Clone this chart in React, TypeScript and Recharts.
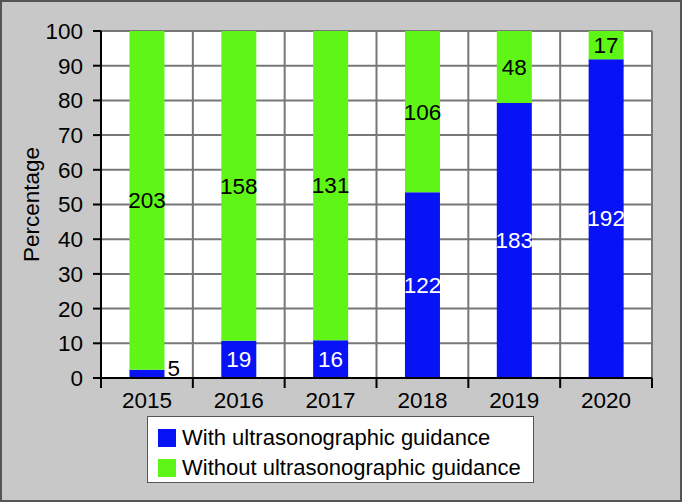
import React from 'react'
import { BarChart, Bar, XAxis, YAxis, CartesianGrid, LabelList } from 'recharts'

const years = ['2015', '2016', '2017', '2018', '2019', '2020']
const withGuidance = [5, 19, 16, 122, 183, 192]
const withoutGuidance = [203, 158, 131, 106, 48, 17]
const yTickLabels = [0, 10, 20, 30, 40, 50, 60, 70, 80, 90, 100]

const BLUE = '#0712f5'
const GREEN = '#5ef517'
const FONT = '"Liberation Sans", Arial, Helvetica, sans-serif'
const FS = 22.5

const chartData = years.map((year, i) => ({
  year,
  withG: withGuidance[i],
  withoutG: withoutGuidance[i],
}))

const YearTick = (props: any) => {
  const { x, y, payload, index } = props
  const half = payload?.offset ?? 46
  const axisY = y - 15
  return (
    <g>
      <line x1={x - half} x2={x - half} y1={axisY} y2={axisY + 10} stroke="#000" strokeWidth={2} />
      {index === years.length - 1 && (
        <line x1={x + half} x2={x + half} y1={axisY} y2={axisY + 10} stroke="#000" strokeWidth={2} />
      )}
      <text x={x} y={y + 15} textAnchor="middle" fill="#000" fontSize={FS} fontFamily={FONT}>
        {payload.value}
      </text>
    </g>
  )
}

// labels for the blue part: white inside, or black beside the bar if it is too thin
const WithLabel = (props: any) => {
  const { x, y, width, height, value } = props
  if (height < 25) {
    return (
      <text x={x + width + 3} y={y + height - 2} textAnchor="start" fill="#000" fontSize={FS} fontFamily={FONT}>
        {value}
      </text>
    )
  }
  return (
    <text x={x + width / 2} y={y + height / 2} dy="0.35em" textAnchor="middle" fill="#fff" fontSize={FS} fontFamily={FONT}>
      {value}
    </text>
  )
}

const WithoutLabel = (props: any) => {
  const { x, y, width, height, value } = props
  return (
    <text x={x + width / 2} y={y + height / 2} dy="0.35em" textAnchor="middle" fill="#000" fontSize={FS} fontFamily={FONT}>
      {value}
    </text>
  )
}

const YLabel = (props: any) => {
  const vb = props.viewBox || { x: 0, y: 31, height: 347 }
  const cx = vb.x + 31
  const cy = vb.y + vb.height / 2
  return (
    <text x={cx} y={cy} dy="0.35em" textAnchor="middle" transform={`rotate(-90, ${cx}, ${cy})`} fill="#000" fontSize={FS} fontFamily={FONT}>
      Percentage
    </text>
  )
}

const legendItems = [
  { label: 'With ultrasonographic guidance', color: BLUE },
  { label: 'Without ultrasonographic guidance', color: GREEN },
]

export default function App() {
  return (
    <div style={{ position: 'absolute', left: 0, top: 0, width: 682, height: 502, background: '#c8c8c8', fontFamily: FONT }}>
      <BarChart
        width={682}
        height={502}
        data={chartData}
        stackOffset="expand"
        barCategoryGap="31%"
        margin={{ top: 31, right: 30, left: 0, bottom: 94 }}
      >
        <CartesianGrid
          fill="#fff"
          stroke="#777"
          strokeWidth={2}
          strokeOpacity={1}
          verticalCoordinatesGenerator={({ offset }: any) =>
            years.map((_, i) => offset.left + (offset.width * (i + 1)) / years.length)
          }
        />
        <XAxis
          dataKey="year"
          height={30}
          tickSize={10}
          tickMargin={5}
          tickLine={false}
          axisLine={{ stroke: '#000', strokeWidth: 2 }}
          tick={<YearTick />}
          interval={0}
        />
        <YAxis
          width={101}
          domain={[0, 1]}
          ticks={yTickLabels.map(v => v / 100)}
          tickFormatter={(v: number) => `${Math.round(v * 100)}`}
          tickSize={8}
          tickMargin={10}
          tickLine={{ stroke: '#000', strokeWidth: 2 }}
          axisLine={{ stroke: '#000', strokeWidth: 2 }}
          tick={{ fill: '#000', fontSize: FS, fontFamily: FONT }}
          label={<YLabel />}
        />
        <Bar dataKey="withG" stackId="a" fill={BLUE} isAnimationActive={false}>
          <LabelList dataKey="withG" content={<WithLabel />} />
        </Bar>
        <Bar dataKey="withoutG" stackId="a" fill={GREEN} isAnimationActive={false}>
          <LabelList dataKey="withoutG" content={<WithoutLabel />} />
        </Bar>
      </BarChart>
      <div
        style={{
          position: 'absolute',
          left: 147,
          top: 416,
          width: 387,
          height: 67,
          boxSizing: 'border-box',
          background: '#fff',
          border: '1.5px solid #555',
          paddingLeft: 10,
          paddingTop: 6,
        }}
      >
        {legendItems.map(item => (
          <div key={item.label} style={{ display: 'flex', alignItems: 'center', height: 30, fontSize: 22, color: '#000', whiteSpace: 'nowrap' }}>
            <span style={{ display: 'inline-block', width: 18, height: 18, background: item.color, marginRight: 6 }} />
            {item.label}
          </div>
        ))}
      </div>
      <div
        style={{
          position: 'absolute',
          left: 0,
          top: 0,
          width: 682,
          height: 502,
          boxSizing: 'border-box',
          border: '2px solid #555',
          pointerEvents: 'none',
        }}
      />
    </div>
  )
}
